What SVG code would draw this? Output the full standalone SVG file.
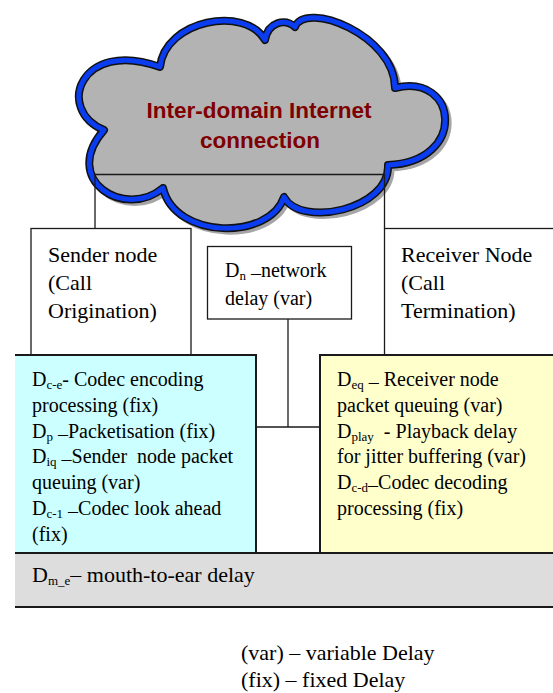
<svg xmlns="http://www.w3.org/2000/svg" width="553" height="693" viewBox="0 0 553 693">
  <style>
    .t { font-family: "Liberation Serif", "Times New Roman", serif; font-size: 20px; fill: #000; }
    .lg { font-size: 22px; }
    .sub { font-size: 13px; }
    .edge { fill: none; stroke: #1a1a1a; stroke-width: 1.3; }
    .heavy { fill: none; stroke: #1a1a1a; stroke-width: 2; }
    .cloudlabel { font-family: "Liberation Sans", Arial, sans-serif; font-weight: bold; font-size: 22.5px; fill: #7f0000; text-anchor: middle; }
  </style>
  <defs>
    <path id="cloudShape" d="M104,130 C55,110 80,38 160,67 C165,20 245,5 265,40 C268,22 285,18 295,27 C305,0 395,35 395,88 C458,72 468,162 388,165 C390,210 300,228 284,197 C270,240 175,240 163,188 C125,220 60,180 104,130 Z"/>
  </defs>

  <rect width="553" height="693" fill="#fff"/>

  <!-- Internet cloud -->
  <g id="cloud">
    <use href="#cloudShape" transform="translate(3,3)" fill="none" stroke="#a6a6a6" stroke-width="7"/>
    <use href="#cloudShape" fill="#b3b3b3" stroke="#111" stroke-width="8" stroke-linejoin="round"/>
    <use href="#cloudShape" fill="none" stroke="#0a3cf0" stroke-width="5" stroke-linejoin="round"/>
    <text class="cloudlabel" x="259" y="118">Inter-domain Internet</text>
    <text class="cloudlabel" x="260" y="148">connection</text>
  </g>

  <!-- Sender node -->
  <g id="sender">
    <rect x="31" y="228.5" width="160" height="127" fill="#fff" class="edge"/>
    <text class="t lg" x="48" y="262">Sender node</text>
    <text class="t lg" x="48" y="290">(Call</text>
    <text class="t lg" x="48" y="318">Origination)</text>
  </g>

  <!-- Receiver node -->
  <g id="receiver">
    <rect x="384.5" y="228.5" width="180" height="127" fill="#fff" class="edge"/>
    <text class="t lg" x="401" y="262">Receiver Node</text>
    <text class="t lg" x="401" y="290">(Call</text>
    <text class="t lg" x="401" y="318">Termination)</text>
  </g>

  <!-- Network delay -->
  <g id="network">
    <rect x="207.5" y="246.5" width="144" height="72.5" fill="#e6e6e6" class="edge"/>
    <text class="t" x="225" y="277" xml:space="preserve">D<tspan class="sub" dy="3">n</tspan><tspan> –</tspan><tspan dy="-3">network</tspan></text>
    <text class="t" x="225" y="305">delay (var)</text>
  </g>

  <!-- Connectors -->
  <g id="connectors">
    <polyline class="edge" points="95,228.5 95,174.5 384.5,174.5 384.5,228.5"/>
    <polyline class="edge" points="288,319 288,427"/>
    <line class="edge" x1="255" y1="427" x2="321" y2="427"/>
  </g>

  <!-- Sender side delays -->
  <g id="sender-delays">
    <rect x="15" y="355" width="241" height="198" fill="#ccffff"/>
    <polyline class="heavy" points="15,355 256,355 256,553"/>
    <text class="t" x="32" y="386" xml:space="preserve">D<tspan class="sub" dy="3">c-e</tspan><tspan dy="-3">- Codec encoding</tspan></text>
    <text class="t" x="32" y="412">processing (fix)</text>
    <text class="t" x="32" y="438" xml:space="preserve">D<tspan class="sub" dy="3">p</tspan><tspan> –</tspan><tspan dy="-3">Packetisation (fix)</tspan></text>
    <text class="t" x="32" y="463" xml:space="preserve">D<tspan class="sub" dy="3">iq</tspan><tspan> –</tspan><tspan dy="-3">Sender  node packet</tspan></text>
    <text class="t" x="32" y="489">queuing (var)</text>
    <text class="t" x="32" y="515" xml:space="preserve">D<tspan class="sub" dy="3">c-1</tspan><tspan> –</tspan><tspan dy="-3">Codec look ahead</tspan></text>
    <text class="t" x="32" y="541">(fix)</text>
  </g>

  <!-- Receiver side delays -->
  <g id="receiver-delays">
    <rect x="320" y="355" width="240" height="198" fill="#ffffcc"/>
    <polyline class="heavy" points="320,553 320,355 553,355"/>
    <text class="t" x="337" y="386" xml:space="preserve">D<tspan class="sub" dy="3">eq</tspan><tspan> –</tspan><tspan dy="-3"> Receiver node</tspan></text>
    <text class="t" x="337" y="412">packet queuing (var)</text>
    <text class="t" x="337" y="438" xml:space="preserve">D<tspan class="sub" dy="3">play</tspan><tspan dy="-3">  - Playback delay</tspan></text>
    <text class="t" x="337" y="463">for jitter buffering (var)</text>
    <text class="t" x="337" y="489" xml:space="preserve">D<tspan class="sub" dy="3">c-d</tspan><tspan>–</tspan><tspan dy="-3">Codec decoding</tspan></text>
    <text class="t" x="337" y="515">processing (fix)</text>
  </g>

  <!-- Mouth-to-ear total -->
  <g id="mouth-to-ear">
    <rect x="15" y="553" width="545" height="54" fill="#dddddd"/>
    <line class="heavy" x1="15" y1="553" x2="553" y2="553"/>
    <line class="heavy" x1="15" y1="607" x2="553" y2="607"/>
    <text class="t lg" x="32" y="582" xml:space="preserve">D<tspan class="sub" dy="3">m_e</tspan><tspan dy="-3">– mouth-to-ear delay</tspan></text>
  </g>

  <!-- Legend -->
  <g id="legend">
    <text class="t lg" x="241" y="660">(var) – variable Delay</text>
    <text class="t lg" x="241" y="687">(fix) – fixed Delay</text>
  </g>
</svg>
